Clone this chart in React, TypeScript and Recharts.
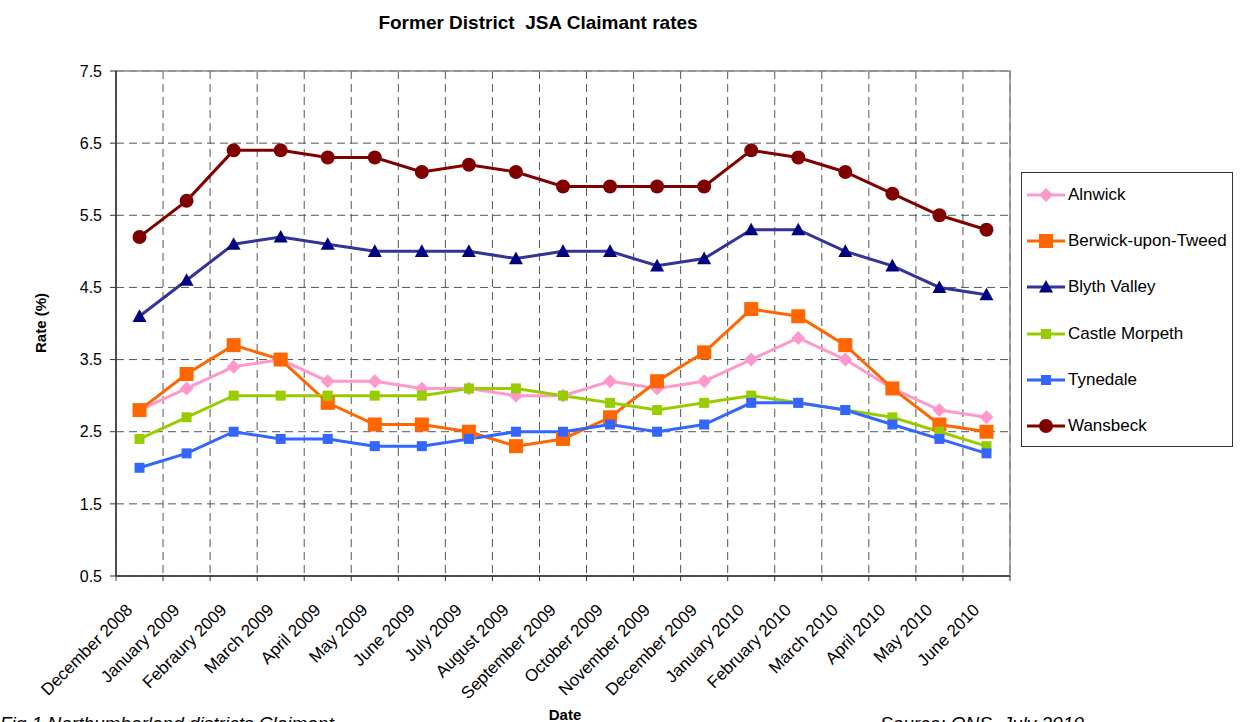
import React from "react";
import { LineChart, Line, XAxis, YAxis, CartesianGrid, ReferenceArea } from "recharts";

const MONTHS = [
  "December 2008", "January 2009", "Febraury 2009", "March 2009", "April 2009",
  "May 2009", "June 2009", "July 2009", "August 2009", "September 2009",
  "October 2009", "November 2009", "December 2009", "January 2010", "February 2010",
  "March 2010", "April 2010", "May 2010", "June 2010",
];

const ALNWICK = [2.8, 3.1, 3.4, 3.5, 3.2, 3.2, 3.1, 3.1, 3.0, 3.0, 3.2, 3.1, 3.2, 3.5, 3.8, 3.5, 3.1, 2.8, 2.7];
const BERWICK = [2.8, 3.3, 3.7, 3.5, 2.9, 2.6, 2.6, 2.5, 2.3, 2.4, 2.7, 3.2, 3.6, 4.2, 4.1, 3.7, 3.1, 2.6, 2.5];
const BLYTH = [4.1, 4.6, 5.1, 5.2, 5.1, 5.0, 5.0, 5.0, 4.9, 5.0, 5.0, 4.8, 4.9, 5.3, 5.3, 5.0, 4.8, 4.5, 4.4];
const CASTLE = [2.4, 2.7, 3.0, 3.0, 3.0, 3.0, 3.0, 3.1, 3.1, 3.0, 2.9, 2.8, 2.9, 3.0, 2.9, 2.8, 2.7, 2.5, 2.3];
const TYNEDALE = [2.0, 2.2, 2.5, 2.4, 2.4, 2.3, 2.3, 2.4, 2.5, 2.5, 2.6, 2.5, 2.6, 2.9, 2.9, 2.8, 2.6, 2.4, 2.2];
const WANSBECK = [5.2, 5.7, 6.4, 6.4, 6.3, 6.3, 6.1, 6.2, 6.1, 5.9, 5.9, 5.9, 5.9, 6.4, 6.3, 6.1, 5.8, 5.5, 5.3];

const Y_TICKS = [0.5, 1.5, 2.5, 3.5, 4.5, 5.5, 6.5, 7.5];

type Shape = "diamond" | "square" | "triangle" | "circle";
const SERIES: { key: string; name: string; values: number[]; line: string; marker: string; shape: Shape; size: number }[] = [
  { key: "alnwick", name: "Alnwick", values: ALNWICK, line: "#FF99CC", marker: "#FF99CC", shape: "diamond", size: 7 },
  { key: "berwick", name: "Berwick-upon-Tweed", values: BERWICK, line: "#FF6600", marker: "#FF6600", shape: "square", size: 7 },
  { key: "blyth", name: "Blyth Valley", values: BLYTH, line: "#333399", marker: "#000080", shape: "triangle", size: 7 },
  { key: "castle", name: "Castle Morpeth", values: CASTLE, line: "#99CC00", marker: "#99CC00", shape: "square", size: 5 },
  { key: "tynedale", name: "Tynedale", values: TYNEDALE, line: "#3366FF", marker: "#3366FF", shape: "square", size: 5 },
  { key: "wansbeck", name: "Wansbeck", values: WANSBECK, line: "#800000", marker: "#800000", shape: "circle", size: 7 },
];

const data = MONTHS.map((m, i) => {
  const row: Record<string, string | number> = { month: m, pos: i + 0.5 };
  SERIES.forEach((s) => (row[s.key] = s.values[i]));
  return row;
});

const W = 1240;
const H = 722;
const PLOT_L = 116;
const PLOT_R = 1010;
const PLOT_T = 71;
const PLOT_B = 576;
const BAND = (PLOT_R - PLOT_L) / MONTHS.length;
const FONT = "'Liberation Sans', Arial, sans-serif";

function marker(shape: Shape, cx: number, cy: number, r: number, fill: string, key?: string) {
  if (shape === "circle") return <circle key={key} cx={cx} cy={cy} r={r} fill={fill} />;
  if (shape === "square") return <rect key={key} x={cx - r} y={cy - r} width={r * 2} height={r * 2} fill={fill} />;
  if (shape === "diamond")
    return <polygon key={key} points={`${cx},${cy - r} ${cx + r},${cy} ${cx},${cy + r} ${cx - r},${cy}`} fill={fill} />;
  return <polygon key={key} points={`${cx},${cy - r} ${cx + r},${cy + r * 0.8} ${cx - r},${cy + r * 0.8}`} fill={fill} />;
}

// month labels sit at the middle of each band, ticks/grid at band edges
const MonthTick = (props: any) => {
  const { x, y, payload } = props;
  const i = payload.value as number;
  if (i >= MONTHS.length) return null;
  const ax = x + BAND / 2 - 6;
  const ay = y + 28;
  return (
    <text x={ax} y={ay} textAnchor="end" transform={`rotate(-45 ${ax} ${ay})`} fontSize={17} fontFamily={FONT} fill="#000">
      {MONTHS[i]}
    </text>
  );
};

function LegendBox() {
  return (
    <div
      style={{
        position: "absolute", left: 1021, top: 172, width: 210, height: 273,
        border: "1px solid #333", background: "#fff", fontFamily: FONT, fontSize: 17,
      }}
    >
      {SERIES.map((s, i) => (
        <div key={s.key} style={{ position: "absolute", left: 4, top: 11 + i * 46.2, height: 22, display: "flex", alignItems: "center" }}>
          <svg width={40} height={22} style={{ display: "block" }}>
            <line x1={1} y1={11} x2={39} y2={11} stroke={s.line} strokeWidth={3} />
            {marker(s.shape, 20, 11, s.size, s.marker)}
          </svg>
          <span style={{ marginLeft: 2, color: "#000", whiteSpace: "nowrap" }}>{s.name}</span>
        </div>
      ))}
    </div>
  );
}

export default function App() {
  return (
    <div style={{ position: "absolute", left: 0, top: 0, width: W, height: H, background: "#fff", overflow: "hidden" }}>
      <LineChart width={W} height={H} data={data} margin={{ top: PLOT_T, right: W - PLOT_R, bottom: 0, left: 0 }}>
        <CartesianGrid strokeDasharray="8 5" stroke="#555" />
        <ReferenceArea x1={0} x2={19} y1={0.5} y2={7.5} fill="none" stroke="#8c8c8c" strokeWidth={1.5} ifOverflow="visible" />
        <XAxis
          type="number"
          dataKey="pos"
          domain={[0, 19]}
          ticks={Array.from({ length: 20 }, (_, k) => k)}
          interval={0}
          height={H - PLOT_B}
          tickSize={5}
          tick={<MonthTick />}
          axisLine={{ stroke: "#333", strokeWidth: 1.5 }}
          tickLine={{ stroke: "#333" }}
        />
        <YAxis
          type="number"
          domain={[0.5, 7.5]}
          ticks={Y_TICKS}
          interval={0}
          width={PLOT_L}
          tickSize={6}
          tickMargin={8}
          tickFormatter={(v: number) => v.toFixed(1)}
          tick={{ fontSize: 16, fill: "#000", fontFamily: FONT }}
          axisLine={{ stroke: "#333", strokeWidth: 1.5 }}
          tickLine={{ stroke: "#333" }}
        />
        {SERIES.map((s) => (
          <Line
            key={s.key}
            type="linear"
            dataKey={s.key}
            name={s.name}
            stroke={s.line}
            strokeWidth={3}
            isAnimationActive={false}
            activeDot={false}
            dot={(p: any) => marker(s.shape, p.cx, p.cy, s.size, s.marker, `${s.key}-${p.index}`)}
          />
        ))}
      </LineChart>
      <svg width={W} height={H} style={{ position: "absolute", left: 0, top: 0, pointerEvents: "none" }} fontFamily={FONT}>
        <text x={538} y={29} textAnchor="middle" fontSize={19} fontWeight="bold" style={{ whiteSpace: "pre" }}>
          {"Former District  JSA Claimant rates"}
        </text>
        <text x={46} y={323} textAnchor="middle" fontSize={15} fontWeight="bold" transform="rotate(-90 46 323)">
          Rate (%)
        </text>
        <text x={565} y={720} textAnchor="middle" fontSize={15} fontWeight="bold">
          Date
        </text>
        <text x={0} y={730} fontSize={19} fontStyle="italic">
          Fig 1 Northumberland districts Claimant
        </text>
        <text x={880} y={730} fontSize={19} fontStyle="italic">
          Source: ONS, July 2010
        </text>
      </svg>
      <LegendBox />
    </div>
  );
}
